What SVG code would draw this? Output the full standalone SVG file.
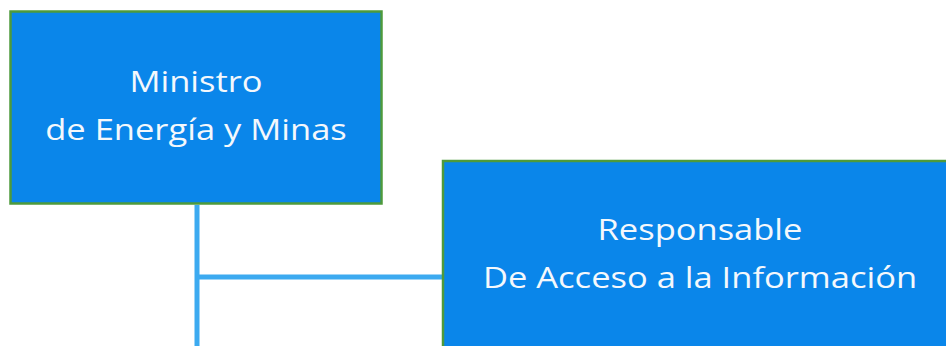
<svg xmlns="http://www.w3.org/2000/svg" width="946" height="346" viewBox="0 0 946 346">
<style>
.box{fill:#0a86ea;stroke:#4e9a3c;stroke-width:2.5}
.lbl{font-family:"Open Sans","Liberation Sans",sans-serif;font-size:29px;fill:#f4f8fc;text-anchor:middle}
.conn{stroke:#3caaf0;stroke-width:5;fill:none}
</style>
<rect width="946" height="346" fill="#ffffff"/>
<g id="connectors">
<line class="conn" x1="197" y1="205" x2="197" y2="346"/>
<line class="conn" x1="197" y1="277" x2="443" y2="277"/>
</g>
<g id="ministro">
<rect class="box" x="10.5" y="11.5" width="371" height="192"/>
<g transform="matrix(1.19 0 0 1 196 0)">
<text class="lbl" x="0" y="92">Ministro</text>
<text class="lbl" x="0" y="140">de Energía y Minas</text>
</g>
</g>
<g id="responsable">
<rect class="box" x="443" y="161" width="510" height="200"/>
<g transform="matrix(1.19 0 0 1 700 0)">
<text class="lbl" x="0" y="240">Responsable</text>
<text class="lbl" x="0" y="288">De Acceso a la Información</text>
</g>
</g>
</svg>
